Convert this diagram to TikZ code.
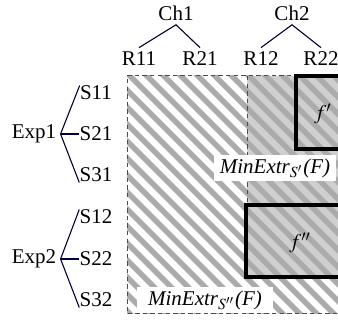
\documentclass[tikz,border=0pt]{standalone}
\usepackage{mathptmx}
\usepackage{fontspec}
\setmainfont{Liberation Serif}

\tikzset{
  every node/.style={font=\fontsize{10.5}{12.5}\selectfont},
  lbl/.style={inner sep=2pt},
  leaf/.style={inner sep=0pt},
  branch/.style={draw=black!80!blue, line width=0.55pt},
  hatchline/.style={draw=black!33, line width=2.7pt},
  region/.style={draw=black!70, dash pattern=on 2.2pt off 1.6pt, line width=0.5pt},
  fbox/.style={draw=black, line width=1.7pt},
  extr/.style={fill=white, inner ysep=1.5pt}
}

\begin{document}
\begin{tikzpicture}[x=0.5pt,y=-0.5pt]
  \useasboundingbox (0,0) rectangle (338,324);
  \clip (0,0) rectangle (338,324);

  % Top: channels and their R columns
  \node[lbl] (ch1) at (176,13) {Ch1};
  \node[lbl] (ch2) at (292,13) {Ch2};
  \node[lbl] (r11) at (139,59) {R11};
  \node[lbl] (r21) at (200,59) {R21};
  \node[lbl] (r12) at (261,59) {R12};
  \node[lbl] (r22) at (321,59) {R22};
  \draw[branch] (r11.north) -- (ch1.south) -- (r21.north);
  \draw[branch] (r12.north) -- (ch2.south) -- (r22.north);

  % Left: experiments and their S rows
  \node[lbl] (exp1) at (34,134) {Exp1};
  \node[lbl] (exp2) at (34,259) {Exp2};
  \node[leaf] (s11) at (96,93) {S11};
  \node[leaf] (s21) at (96,134) {S21};
  \node[leaf] (s31) at (96,175) {S31};
  \node[leaf] (s12) at (96,217) {S12};
  \node[leaf] (s22) at (96,259) {S22};
  \node[leaf] (s32) at (96,300) {S32};
  \draw[branch] (exp1.east) -- (s11.north west);
  \draw[branch] (exp1.east) -- (s21.west);
  \draw[branch] (exp1.east) -- (s31.south west);
  \draw[branch] (exp2.east) -- (s12.north west);
  \draw[branch] (exp2.east) -- (s22.west);
  \draw[branch] (exp2.east) -- (s32.south west);

  % Grey part: S' block and f'' box
  \fill[white] (127,76) rectangle (352,314);
  \fill[gray!38] (247,76) rectangle (352,277);

  % Hatching over the whole table
  \begin{scope}
    \clip (127,76) rectangle (352,314);
    \foreach \a in {-131,-114,...,362}
      \draw[hatchline] (\a,70) -- ++(260,260);
  \end{scope}

  % Dashed borders
  \draw[region] (352,76) -- (127,76) -- (127,314) -- (352,314);
  \draw[region] (247,76) -- (247,205);

  % Boxes f' and f''
  \draw[fbox] (352,76) -- (296,76) -- (296,149) -- (352,149);
  \draw[fbox] (352,205) -- (246,205) -- (246,277) -- (352,277);
  \node (fa) at (323,114) {$f'$};
  \node (fb) at (300,243) {$f''$};

  % Labels of the two regions
  \node[extr, inner xsep=3pt] (ms1) at (275,168) {\textit{MinExtr}$_{S'}$\textit{(F)}};
  \node[extr, inner xsep=5.5pt] (ms2) at (205,300) {\textit{MinExtr}$_{S''}$\textit{(F)}};
\end{tikzpicture}
\end{document}
